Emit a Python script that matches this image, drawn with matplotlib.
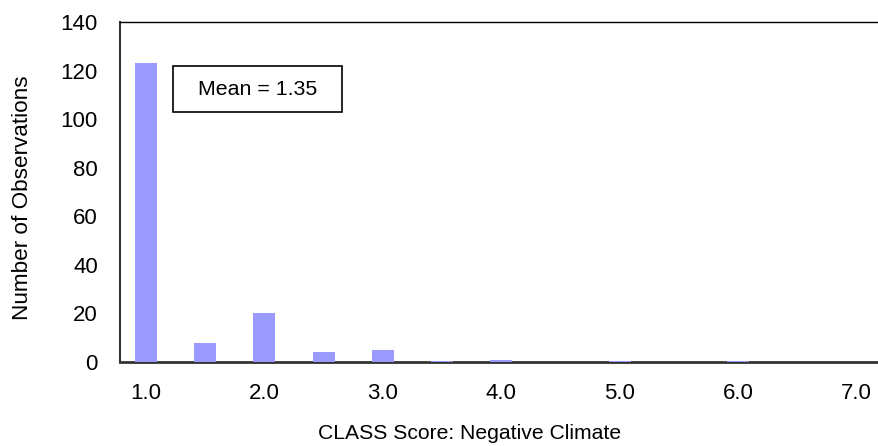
import numpy as np
import matplotlib.pyplot as plt
from matplotlib.patches import Rectangle

plt.rcParams['font.family'] = ['Liberation Sans', 'DejaVu Sans']

scores = [1.0, 1.5, 2.0, 2.5, 3.0, 3.5, 4.0, 4.5, 5.0, 5.5, 6.0, 6.5, 7.0]
counts = [123, 8, 20, 4, 5, 0.3, 1, 0, 0.3, 0, 0.3, 0, 0]
yticks = [0, 20, 40, 60, 80, 100, 120, 140]
xticks = [1.0, 2.0, 3.0, 4.0, 5.0, 6.0, 7.0]
mean_text = "Mean = 1.35"

fig = plt.figure(figsize=(8.79, 4.46), dpi=100)
ax = fig.add_axes([0.1365, 0.1883, 0.8635, 0.7624])

ax.bar(scores, counts, width=0.186, color='#9999FF', zorder=1)

ax.set_xlim(0.78, 7.19)
ax.set_ylim(0, 140)
ax.set_yticks(yticks)
ax.set_xticks(xticks)
ax.set_xticklabels([f"{v:.1f}" for v in xticks])
ax.tick_params(length=0, labelsize=16)
ax.tick_params(axis='y', pad=16)
ax.tick_params(axis='x', pad=15)

ax.spines['right'].set_visible(False)
ax.spines['top'].set_linewidth(1.0)
ax.spines['top'].set_color('black')
ax.spines['left'].set_linewidth(1.5)
ax.spines['left'].set_color('#333333')
ax.spines['bottom'].set_linewidth(2.0)
ax.spines['bottom'].set_color('#333333')
ax.spines['bottom'].set_zorder(0)

ax.set_xlabel("CLASS Score: Negative Climate", fontsize=15.2)
ax.xaxis.label.set_va('center')
ax.xaxis.set_label_coords(0.46, -0.209)
ax.set_ylabel("Number of Observations", fontsize=16.2)
ax.yaxis.label.set_va('center')
ax.yaxis.set_label_coords(-0.129, 0.482)

# mean annotation box
ax.add_patch(Rectangle((0.0698, 0.735), 0.2227, 0.135, transform=ax.transAxes,
                       facecolor='white', edgecolor='black', linewidth=1.2, zorder=3))
ax.text(0.181, 0.8025, mean_text, transform=ax.transAxes, fontsize=15.4,
        va='center', ha='center', zorder=4)

fig.savefig("out.png", dpi=100)
